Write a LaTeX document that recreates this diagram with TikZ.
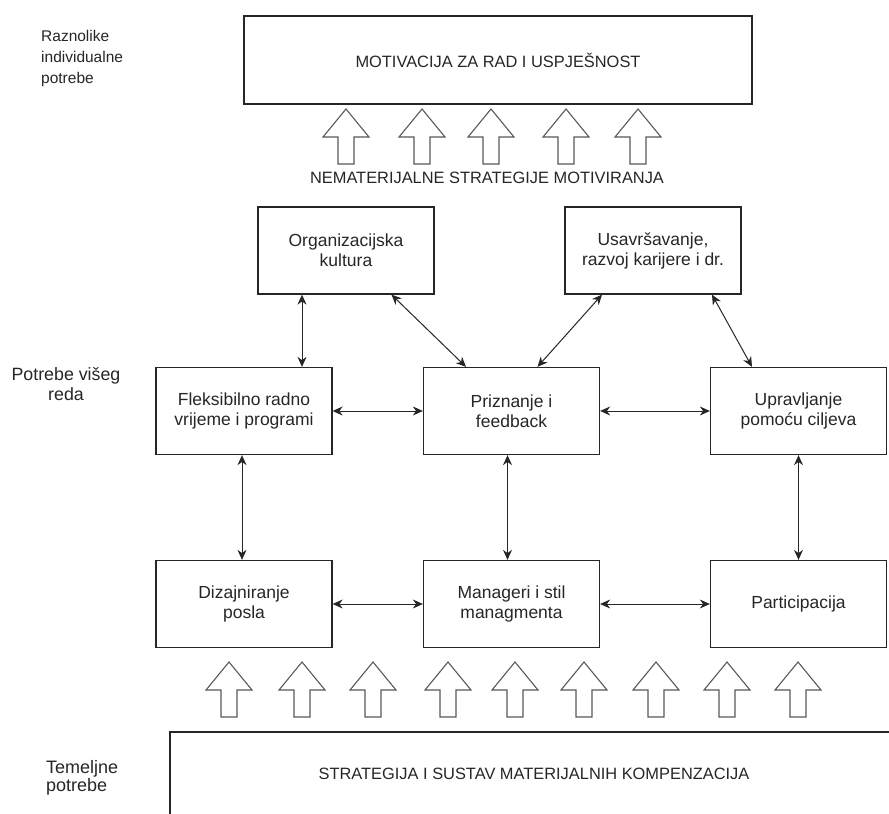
\documentclass[tikz,border=0pt]{standalone}
\usepackage{fontspec}
\setmainfont{Liberation Sans}
\usetikzlibrary{arrows.meta}
\tikzset{
	box/.style={draw=black!85, line width=1.3pt, minimum width=176pt, minimum height=87pt, align=center, inner sep=0pt, text=black!85, font=\fontsize{17.5}{20}\selectfont},
	capsbox/.style={box, font=\fontsize{16.4}{20}\selectfont},
	link/.style={line width=1pt, color=black!85, {Stealth[length=10pt,width=9pt]}-{Stealth[length=10pt,width=9pt]}},
	blockarrow/.style={draw=black!65, line width=1.1pt, fill=white, line join=miter},
	needs/.style={align=left, text=black!85, inner sep=0pt},
}
\def\blockup(#1,#2){\draw[blockarrow] (#1,#2) -- ++(23,28) -- ++(-15,0) -- ++(0,27) -- ++(-16,0) -- ++(0,-27) -- ++(-15,0) -- cycle;}

\begin{document}
\begin{tikzpicture}[x=1pt, y=-1pt]
		%%%%% START %%%%%
		
		\useasboundingbox (0, 0) rectangle (889, 814);
		\clip (0, 0) rectangle (889, 814);
		
		\node[needs, anchor=west, font=\fontsize{15.5}{21}\selectfont] (raznolike) at (41, 58) {Raznolike\\individualne\\potrebe};
		\node[needs, align=center, font=\fontsize{17.8}{20}\selectfont] (visi) at (66, 384) {Potrebe višeg\\reda};
		\node[needs, anchor=west, font=\fontsize{18}{18.5}\selectfont] (temeljne) at (46, 778) {Temeljne\\potrebe};
		
		\node[capsbox, minimum width=508pt, minimum height=88pt] (motivacija) at (498, 60) {MOTIVACIJA ZA RAD I USPJEŠNOST};
		
		\blockup(346, 109)
		\blockup(422, 109)
		\blockup(491, 109)
		\blockup(566, 109)
		\blockup(638, 109)
		
		\node[needs, font=\fontsize{16.4}{20}\selectfont] (nematerijalne) at (487, 178) {NEMATERIJALNE STRATEGIJE MOTIVIRANJA};
		
		\node[box] (kultura) at (346, 250.5) {Organizacijska\\kultura};
		\node[box] (karijera) at (653, 250.5) {Usavršavanje,\\razvoj karijere i dr.};
		
		\node[box] (vrijeme) at (244, 411) {Fleksibilno radno\\vrijeme i programi};
		\node[box] (priznanje) at (511.5, 411) {Priznanje i\\feedback};
		\node[box] (ciljevi) at (798.5, 411) {Upravljanje\\pomoću ciljeva};
		
		\node[box] (dizajn) at (244, 604) {Dizajniranje\\posla};
		\node[box] (manageri) at (511.5, 604) {Manageri i stil\\managmenta};
		\node[box] (participacija) at (798.5, 604) {Participacija};
		
		\draw[link] ([xshift=-44pt]kultura.south) -- ([xshift=58pt]vrijeme.north);
		\draw[link] ([xshift=45.5pt]kultura.south) -- ([xshift=-45.5pt]priznanje.north);
		\draw[link] ([xshift=-51pt]karijera.south) -- ([xshift=26pt]priznanje.north);
		\draw[link] ([xshift=59pt]karijera.south) -- ([xshift=-46.5pt]ciljevi.north);
		
		\draw[link] (vrijeme.east) -- (priznanje.west);
		\draw[link] (priznanje.east) -- (ciljevi.west);
		
		\draw[link] ([xshift=-2pt]vrijeme.south) -- ([xshift=-2pt]dizajn.north);
		\draw[link] ([xshift=-4pt]priznanje.south) -- ([xshift=-4pt]manageri.north);
		\draw[link] (ciljevi.south) -- (participacija.north);
		
		\draw[link] (dizajn.east) -- (manageri.west);
		\draw[link] (manageri.east) -- (participacija.west);
		
		\blockup(229, 662)
		\blockup(302, 662)
		\blockup(373, 662)
		\blockup(448, 662)
		\blockup(515, 662)
		\blockup(584, 662)
		\blockup(656, 662)
		\blockup(727, 662)
		\blockup(798, 662)
		
		\node[capsbox, minimum width=728pt, minimum height=84pt] (materijalne) at (534, 774) {STRATEGIJA I SUSTAV MATERIJALNIH KOMPENZACIJA};
		
		%%%%% END %%%%%
\end{tikzpicture}
\end{document}
